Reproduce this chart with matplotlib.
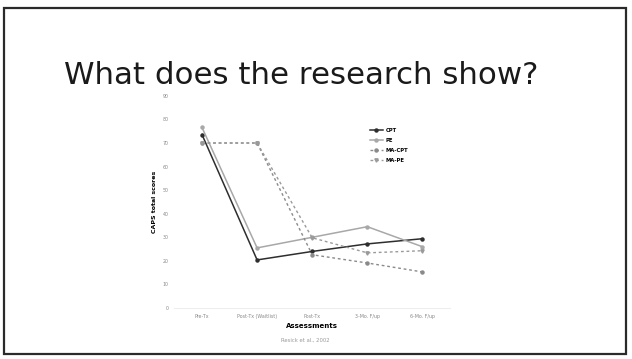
import matplotlib
matplotlib.use("Agg")
import matplotlib.pyplot as plt
from matplotlib.patches import Rectangle

categories = ["Pre-Tx", "Post-Tx (Waitlist)", "Post-Tx", "3-Mo. F/up", "6-Mo. F/up"]
cpt = [73.6, 20.4, 24.0, 27.2, 29.4]
pe = [76.6, 25.5, 30.0, 34.5, 26.0]
ma_cpt = [70.0, 70.0, 22.6, 19.1, 15.3]
ma_pe = [70.0, 70.0, 29.8, 23.4, 24.3]
yticks = list(range(0, 91, 10))

fig = plt.figure(figsize=(6.32, 3.59), dpi=100)
fig.patch.set_facecolor("white")

# slide border
fig.add_artist(Rectangle((0.006, 0.015), 0.985, 0.962, transform=fig.transFigure,
                         fill=False, edgecolor="#2a2a2a", linewidth=1.6))

fig.text(0.102, 0.79, "What does the research show?", fontsize=22.2,
         family="DejaVu Sans", color="#1a1a1a", va="center", ha="left")

ax = fig.add_axes([0.276, 0.142, 0.436, 0.591])
x = range(len(categories))
ax.plot(x, cpt, color="#2e2e2e", lw=1.1, marker="o", ms=2.2, label="CPT")
ax.plot(x, pe, color="#a8a8a8", lw=1.1, marker="o", ms=2.2, label="PE")
ax.plot(x, ma_cpt, color="#8a8a8a", lw=1.0, ls=(0, (2, 2)), marker="o", ms=2.2, label="MA-CPT")
ax.plot(x, ma_pe, color="#9a9a9a", lw=1.0, ls=(0, (2, 2)), marker="v", ms=2.4, label="MA-PE")

ax.set_xlim(-0.5, 4.5)
ax.set_ylim(0, 90)
ax.set_yticks(yticks)
ax.set_xticks(list(x))
ax.set_xticklabels(categories)
ax.tick_params(axis="both", labelsize=3.4, colors="#888888", length=0, pad=4)
for s in ["top", "right", "left"]:
    ax.spines[s].set_visible(False)
ax.spines["bottom"].set_color("#eeeeee")
ax.set_ylabel("CAPS total scores", fontsize=4.5, fontweight="bold", labelpad=4)
ax.set_xlabel("Assessments", fontsize=5, fontweight="bold", labelpad=3)

leg = ax.legend(loc="upper left", bbox_to_anchor=(0.7, 0.76, 0.1, 0.1), fontsize=3.8,
                frameon=False, handlelength=2.4, labelspacing=0.95, borderpad=0,
                handletextpad=0.5)
for t in leg.get_texts():
    t.set_fontweight("bold")

fig.text(0.483, 0.053, "Resick et al., 2002", fontsize=3.8, color="#999999", ha="center", va="center")

fig.savefig("out.png", dpi=100)
